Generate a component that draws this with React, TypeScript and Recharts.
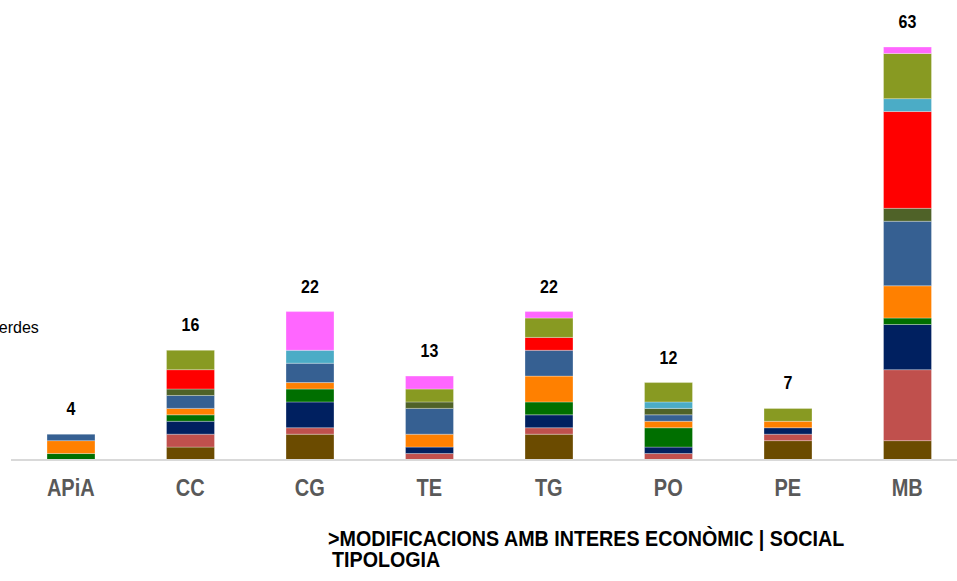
import { BarChart, Bar, XAxis, YAxis, LabelList } from 'recharts';

const categories = ['APiA', 'CC', 'CG', 'TE', 'TG', 'PO', 'PE', 'MB'];
const totals = [4, 16, 22, 13, 22, 12, 7, 63];

// stack order, bottom to top
const brown = [0, 2, 4, 0, 4, 0, 3, 3];
const salmon = [0, 2, 1, 1, 1, 1, 1, 11];
const navy = [0, 2, 4, 1, 2, 1, 1, 7];
const green = [1, 1, 2, 0, 2, 3, 0, 1];
const orange = [2, 1, 1, 2, 4, 1, 1, 5];
const blue = [1, 2, 3, 4, 4, 1, 0, 10];
const darkOlive = [0, 1, 0, 1, 0, 1, 0, 2];
const red = [0, 3, 0, 0, 2, 0, 0, 15];
const teal = [0, 0, 2, 0, 0, 1, 0, 2];
const olive = [0, 3, 0, 2, 3, 3, 2, 7];
const magenta = [0, 0, 6, 2, 1, 0, 0, 1];

const series = [
  { key: 'brown', values: brown, color: '#6B4B00' },
  { key: 'salmon', values: salmon, color: '#C0504D' },
  { key: 'navy', values: navy, color: '#002060' },
  { key: 'green', values: green, color: '#006F00' },
  { key: 'orange', values: orange, color: '#FF8000' },
  { key: 'blue', values: blue, color: '#366092' },
  { key: 'darkOlive', values: darkOlive, color: '#4F6228' },
  { key: 'red', values: red, color: '#FF0000' },
  { key: 'teal', values: teal, color: '#4BACC6' },
  { key: 'olive', values: olive, color: '#889A22' },
  { key: 'magenta', values: magenta, color: '#FF66FF' },
];

const data = categories.map((name, i) => {
  const row: Record<string, string | number> = { name };
  series.forEach((s) => {
    row[s.key] = s.values[i];
  });
  return row;
});

// key of the highest non-empty segment in each bar
const topKey = categories.map((_, i) => {
  let k = '';
  series.forEach((s) => {
    if (s.values[i] > 0) k = s.key;
  });
  return k;
});

const FONT = '"Liberation Sans", Arial, sans-serif';

const renderTotal = (key: string) => (props: any) => {
  const { x, y, width, value } = props;
  const idx = categories.indexOf(String(value));
  if (idx < 0 || topKey[idx] !== key) return null;
  const cx = Number(x) + Number(width) / 2;
  const by = Number(y) - 19;
  return (
    <text
      key={`total-${idx}`}
      transform={`translate(${cx},${by}) scale(1,1.15)`}
      textAnchor="middle"
      fontFamily={FONT}
      fontWeight="bold"
      fontSize={16}
      fill="#000"
    >
      {totals[idx]}
    </text>
  );
};

const CategoryTick = (props: any) => {
  const { x, y, payload } = props;
  return (
    <text
      transform={`translate(${x},${Number(y) + 28}) scale(1,1.18)`}
      textAnchor="middle"
      fontFamily={FONT}
      fontWeight="bold"
      fontSize={20}
      fill="#595959"
    >
      {payload.value}
    </text>
  );
};

export default function App() {
  return (
    <div
      style={{
        position: 'absolute',
        left: 0,
        top: 0,
        width: 957,
        height: 581,
        overflow: 'hidden',
        background: '#fff',
      }}
    >
      <BarChart
        width={975}
        height={581}
        data={data}
        barSize={48}
        margin={{ top: 47, right: 8, left: 11, bottom: 81 }}
      >
        <XAxis
          dataKey="name"
          height={40}
          axisLine={{ stroke: '#D9D9D9', strokeWidth: 2 }}
          tickLine={false}
          tick={<CategoryTick />}
          interval={0}
        />
        <YAxis hide domain={[0, 64]} />
        {series.map((s) => (
          <Bar
            key={s.key}
            dataKey={s.key}
            stackId="a"
            fill={s.color}
            stroke="#ffffff"
            strokeOpacity={0.5}
            strokeWidth={0.6}
            isAnimationActive={false}
          >
            <LabelList dataKey="name" content={renderTotal(s.key)} />
          </Bar>
        ))}
      </BarChart>
      <svg
        width={957}
        height={581}
        style={{ position: 'absolute', left: 0, top: 0, pointerEvents: 'none' }}
      >
        <text x={-11} y={333} fontFamily={FONT} fontSize={16} fill="#000">
          Verdes
        </text>
        <text
          transform="translate(328,546) scale(1,1.12)"
          fontFamily={FONT}
          fontWeight="bold"
          fontSize={19.7}
          fill="#000"
        >
          {'>MODIFICACIONS AMB INTERES ECONÒMIC | SOCIAL'}
        </text>
        <text
          transform="translate(332,567) scale(1,1.12)"
          fontFamily={FONT}
          fontWeight="bold"
          fontSize={19.7}
          fill="#000"
        >
          TIPOLOGIA
        </text>
      </svg>
    </div>
  );
}
